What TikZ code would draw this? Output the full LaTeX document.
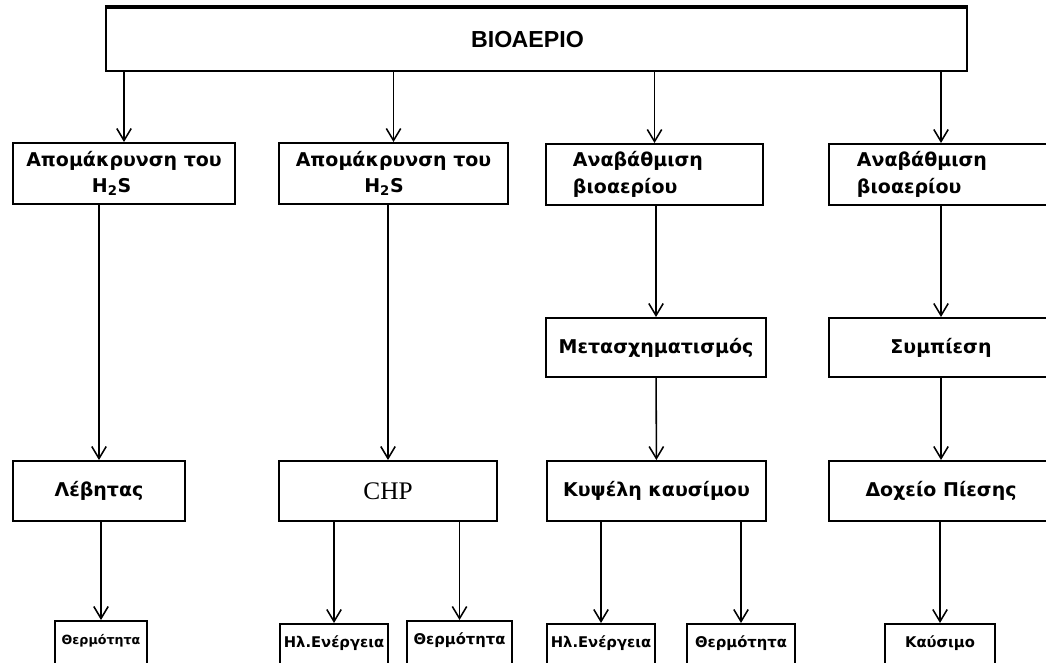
\documentclass[tikz,border=0pt]{standalone}
\usepackage{fontspec}
\setmainfont{DejaVu Sans}
\newfontfamily\biofont{Liberation Sans}
\newfontfamily\chpfont{Liberation Serif}
\usetikzlibrary{arrows.meta}

\begin{document}
\begin{tikzpicture}[x=0.025cm, y=-0.025cm, line width=1.1pt,
    >={Straight Barb[length=3mm,width=3.6mm,line width=1.1pt]},
    box/.style={draw, line width=1.4pt, inner sep=0pt, minimum height=1.5cm,
      align=center, font=\bfseries\fontsize{13.5}{19}\selectfont},
    leftbox/.style={box, align=left, text width=#1},
    endbox/.style={draw, line width=1.4pt, anchor=north, inner xsep=0pt, inner ysep=0pt,
      text height=0.58cm, text depth=1.2cm, font=\bfseries\fontsize{10.5}{13}\selectfont}]

  \clip (0, 0) rectangle (1046, 663);

  \node[box, minimum width=21.525cm, minimum height=1.575cm,
    font=\biofont\bfseries\fontsize{16.5}{18}\selectfont] (bio) at (536.5, 39.5)
    {\raisebox{-0.12cm}{ΒΙΟΑΕΡΙΟ}\hspace*{0.45cm}};
  \draw[line width=2.6pt] (bio.north west) -- (bio.north east);

  \node[box, minimum width=5.55cm, minimum height=1.525cm] (r1a) at (124, 173.5)
    {Απομάκρυνση του\\H\textsubscript{2}S\hspace*{1.3em}};
  \node[box, minimum width=5.725cm, minimum height=1.525cm] (r1b) at (393.5, 173.5)
    {Απομάκρυνση του\\H\textsubscript{2}S\hspace*{1em}};
  \node[leftbox=4.075cm, inner xsep=0.675cm, minimum height=1.525cm] (r1c) at (654.5, 174.5)
    {Αναβάθμιση\\βιοαερίου};
  \node[leftbox=4.2cm, inner xsep=0.7cm, minimum height=1.525cm] (r1d) at (941, 174.5)
    {Αναβάθμιση\\βιοαερίου};

  \node[box, minimum width=5.5cm, minimum height=1.475cm] (r2c) at (656, 347.5) {Μετασχηματισμός};
  \node[box, minimum width=5.6cm, minimum height=1.475cm] (r2d) at (941, 347.5) {Συμπίεση};

  \node[box, minimum width=4.3cm] (r3a) at (99, 491) {Λέβητας};
  \node[box, minimum width=5.45cm, font=\chpfont\fontsize{18}{20}\selectfont] (r3b) at (388, 491) {CHP};
  \node[box, minimum width=5.475cm] (r3c) at (656.5, 491) {Κυψέλη καυσίμου};
  \node[box, minimum width=5.6cm] (r3d) at (941, 491) {Δοχείο Πίεσης};

  \node[endbox, minimum width=2.3cm, font=\bfseries\fontsize{9}{11}\selectfont] (b1) at (101, 620) {Θερμότητα};
  \node[endbox, minimum width=2.7cm] (b2) at (334, 623) {Ηλ.Ενέργεια};
  \node[endbox, minimum width=2.625cm] (b3) at (459.5, 620) {Θερμότητα};
  \node[endbox, minimum width=2.7cm] (b4) at (601, 623) {Ηλ.Ενέργεια};
  \node[endbox, minimum width=2.7cm] (b5) at (741, 623) {Θερμότητα};
  \node[endbox, minimum width=2.75cm] (b6) at (940, 623) {Καύσιμο};

  \draw [->] (bio.south -| r1a) to (r1a);
  \draw [->] (bio.south -| r1b) to (r1b);
  \draw [->] (bio.south -| r1c) to (r1c);
  \draw [->] (bio.south -| r1d) to (r1d);
  \draw [->] (r1a.south -| r3a) to (r3a);
  \draw [->] (r1b.south -| r3b) to (r3b);
  \draw [->] (r1c.south -| r2c) to (r2c);
  \draw [->] (r1d.south -| r2d) to (r2d);
  \draw [->] (r2c) to (r3c);
  \draw [->] (r2d) to (r3d);
  \draw [->] (r3a.south -| b1) to (b1);
  \draw [->] (r3b.south -| b2) to (b2);
  \draw [->] (r3b.south -| b3) to (b3);
  \draw [->] (r3c.south -| b4) to (b4);
  \draw [->] (r3c.south -| b5) to (b5);
  \draw [->] (r3d.south -| b6) to (b6);

\end{tikzpicture}
\end{document}
